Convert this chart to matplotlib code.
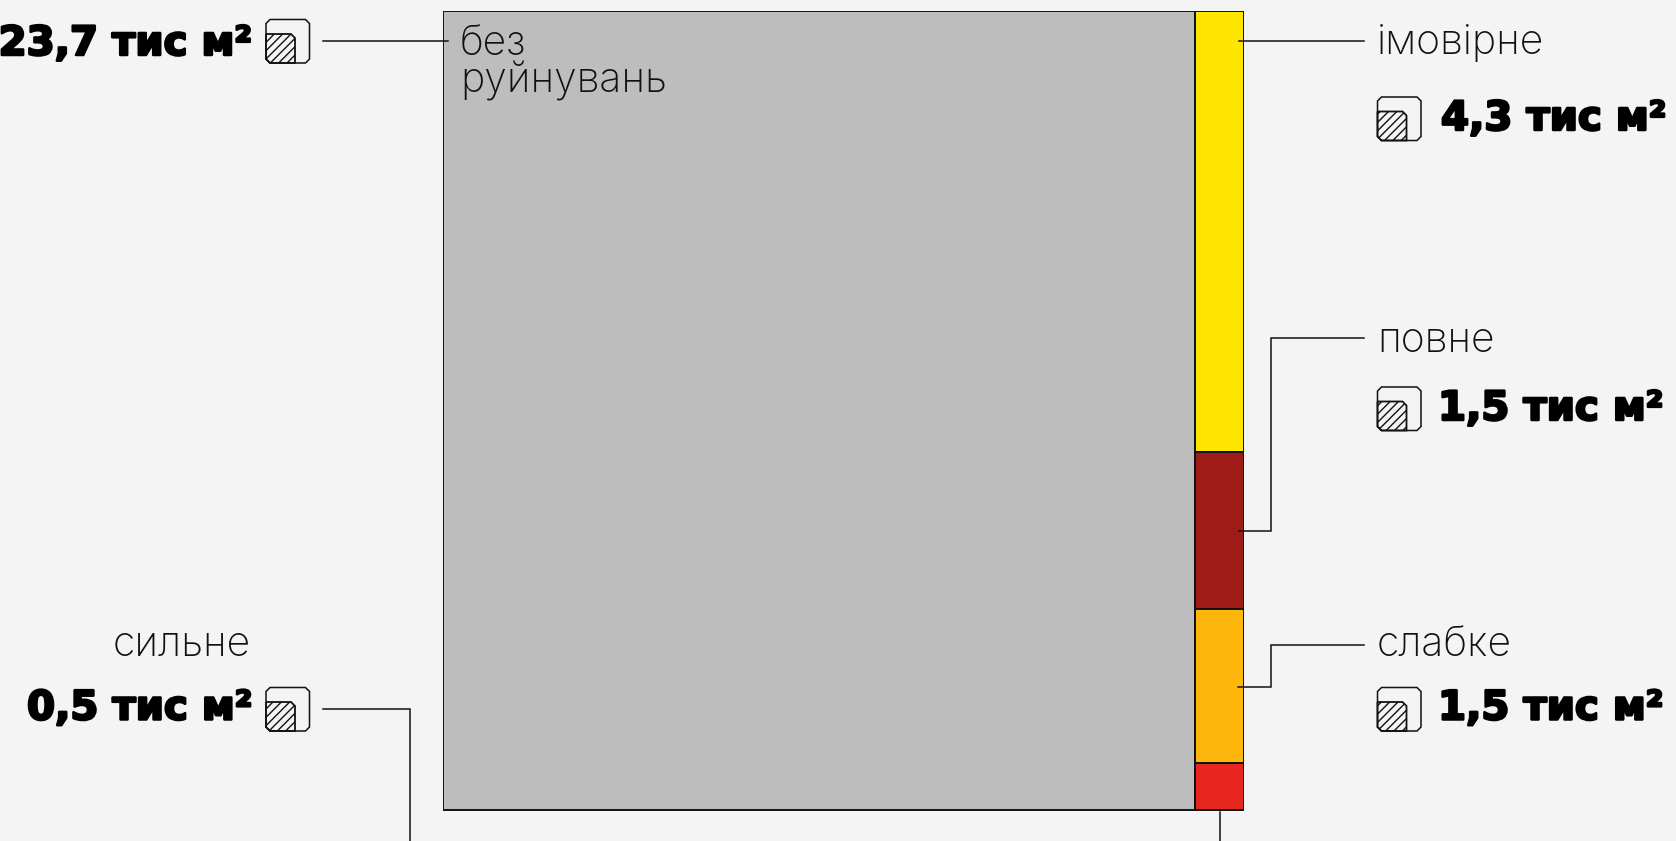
import matplotlib
matplotlib.use('Agg')
import matplotlib.pyplot as plt
import matplotlib.patheffects as pe
from matplotlib.patches import Polygon, PathPatch
from matplotlib.path import Path

W, H = 1676, 841
BG = '#f4f4f4'
INK = '#111111'
plt.rcParams['hatch.linewidth'] = 1.0

# data, thousand m2
labels = ['імовірне', 'повне', 'слабке', 'сильне']
areas = ['4,3', '1,5', '1,5', '0,5']
col_heights = [4.3, 1.53, 1.5, 0.46]
col_colors = ['#ffe600', '#9e1b17', '#fdb60b', '#e6261f']
main_label = ['без', 'руйнувань']
main_area = '23,7'
main_color = '#bdbdbd'

fig = plt.figure(figsize=(W / 100, H / 100), dpi=100, facecolor=BG)

# overlay in pixel coords for leaders, icons, text
ov = fig.add_axes([0, 0, 1, 1], zorder=3)
ov.set_xlim(0, W)
ov.set_ylim(H, 0)
ov.axis('off')
ov.patch.set_alpha(0)

# treemap block
left, right, top, bottom = 443, 1244, 11, 810.5
ax = fig.add_axes([left / W, 1 - bottom / H, (right - left) / W, (bottom - top) / H], zorder=1)
split = 0.9385
total = sum(col_heights)
ax.bar(split / 2, total, width=split, bottom=0, color=main_color, edgecolor=INK, linewidth=1.4)
b = 0
for h, c in zip(col_heights, col_colors):
    ax.bar((1 + split) / 2, h, width=1 - split, bottom=b, color=c, edgecolor=INK, linewidth=1.4)
    b += h
ax.set_xlim(0, 1)
ax.set_ylim(total, 0)
ax.axis('off')


def icon(x, y, s=43.5):
    c = 4
    pts = [(x + c, y), (x + s - c, y), (x + s, y + c), (x + s, y + s - c),
           (x + s - c, y + s), (x + c, y + s), (x, y + s - c), (x, y + c)]
    ov.add_patch(Polygon(pts, closed=True, fc='none', ec=INK, lw=1.1))
    i = 29
    v = [(x, y + s - i), (x + i - 4, y + s - i), (x + i, y + s - i + 4), (x + i, y + s),
         (x + c, y + s), (x, y + s - c), (x, y + s - i)]
    ov.add_patch(PathPatch(Path(v), fc='none', ec=INK, lw=1.3, hatch='////'))


def heavy(x, y, value, ha='left'):
    ov.text(x, y, value + ' тис м²', fontsize=29, fontweight='bold', family='DejaVu Sans',
            color='black', ha=ha, va='baseline',
            path_effects=[pe.withStroke(linewidth=1.8, foreground='black')])


def light(x, y, s, ha='left'):
    ov.text(x, y, s, fontsize=29.5, fontweight='light', family='Inter',
            color='#111111', ha=ha, va='baseline')


def leader(pts):
    xs, ys = zip(*pts)
    ov.plot(xs, ys, color=INK, lw=1.1, solid_joinstyle='miter')


# main block
light(460, 54.5, main_label[0])
light(460, 92, main_label[1])
heavy(252, 55, main_area, ha='right')
icon(266, 19.5)
leader([(323, 41), (448, 41)])

# right side labels
light(1377, 54, labels[0])
icon(1377.5, 97)
heavy(1441, 130, areas[0])
leader([(1364, 41), (1239, 41)])

light(1377, 351.5, labels[1])
icon(1377.5, 387)
heavy(1438, 420, areas[1])
leader([(1364, 338), (1271, 338), (1271, 531), (1239, 531)])

light(1377, 656.5, labels[2])
icon(1377.5, 687.5)
heavy(1438, 719.5, areas[2])
leader([(1364, 644.5), (1271, 644.5), (1271, 687), (1238, 687)])

# left bottom label
light(251, 656.5, labels[3], ha='right')
heavy(252, 719.5, areas[3], ha='right')
icon(266, 687.5)
leader([(323, 709), (410, 709), (410, 841)])

# red segment leader, runs off the bottom
leader([(1220, 812), (1220, 841)])

fig.savefig('out.png', dpi=100, facecolor=BG)
